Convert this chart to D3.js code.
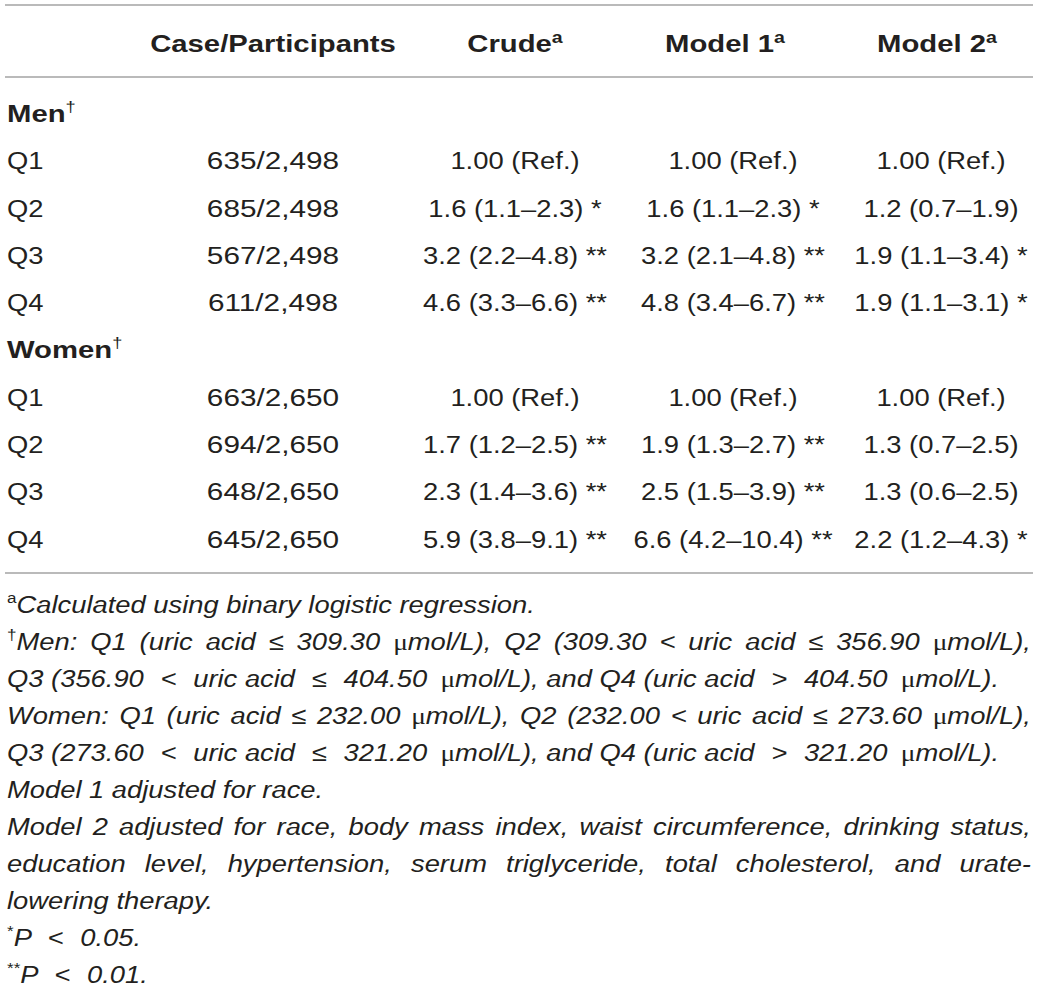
<!DOCTYPE html>
<html><head><meta charset="utf-8">
<script src="https://cdn.jsdelivr.net/npm/d3@7"></script>
<style>body{margin:0;background:#fff}</style></head>
<body>
<script>
// ---- data ----
const columns = ["Case/Participants", "Crude", "Model 1", "Model 2"];
const columnSup = ["", "a", "a", "a"];
const groups = ["Men", "Women"];
const quartiles = ["Q1", "Q2", "Q3", "Q4"];
const casesMen = [635, 685, 567, 611];
const casesWomen = [663, 694, 648, 645];
const participants = [2498, 2650];
const crudeMen = ["1.00 (Ref.)", "1.6 (1.1–2.3) *", "3.2 (2.2–4.8) **", "4.6 (3.3–6.6) **"];
const crudeWomen = ["1.00 (Ref.)", "1.7 (1.2–2.5) **", "2.3 (1.4–3.6) **", "5.9 (3.8–9.1) **"];
const model1Men = ["1.00 (Ref.)", "1.6 (1.1–2.3) *", "3.2 (2.1–4.8) **", "4.8 (3.4–6.7) **"];
const model1Women = ["1.00 (Ref.)", "1.9 (1.3–2.7) **", "2.5 (1.5–3.9) **", "6.6 (4.2–10.4) **"];
const model2Men = ["1.00 (Ref.)", "1.2 (0.7–1.9)", "1.9 (1.1–3.4) *", "1.9 (1.1–3.1) *"];
const model2Women = ["1.00 (Ref.)", "1.3 (0.7–2.5)", "1.3 (0.6–2.5)", "2.2 (1.2–4.3) *"];
const footSup = ["a", "†", "", "", "", "", "", "", "", "*", "**"];
const footText = [
  "Calculated using binary logistic regression.",
  "Men: Q1 (uric acid ≤ 309.30 μmol/L), Q2 (309.30 < uric acid ≤ 356.90 μmol/L),",
  "Q3 (356.90 < uric acid ≤ 404.50 μmol/L), and Q4 (uric acid > 404.50 μmol/L).",
  "Women: Q1 (uric acid ≤ 232.00 μmol/L), Q2 (232.00 < uric acid ≤ 273.60 μmol/L),",
  "Q3 (273.60 < uric acid ≤ 321.20 μmol/L), and Q4 (uric acid > 321.20 μmol/L).",
  "Model 1 adjusted for race.",
  "Model 2 adjusted for race, body mass index, waist circumference, drinking status,",
  "education level, hypertension, serum triglyceride, total cholesterol, and urate-",
  "lowering therapy.",
  "P < 0.05.",
  "P < 0.01."
];
const footJustify = [false, true, false, true, false, false, true, true, false, false, false];

// ---- layout ----
const W = 1040, H = 992;
const FONT = "'Liberation Sans', Arial, Helvetica, sans-serif";
const FS = 24, SX = 1.14, SXB = 1.22, SXC = 1.24, INK = "#231f20";
const left = 7, right = 1031;

const svg = d3.select("body").append("svg").attr("width", W).attr("height", H)
  .style("font-family", FONT).style("fill", INK);

const colX = d3.scaleOrdinal().domain(columns).range([273, 515, 733, 941]);
const headX = d3.scaleOrdinal().domain(columns).range([273, 515, 725, 937]);
const rowY = d3.scaleLinear().domain([0, 9]).range([122, 547.5]);
const footY = d3.scaleLinear().domain([0, 10]).range([613, 983]);

// rules
[5, 77, 573].forEach(y => svg.append("line").attr("x1", 5).attr("x2", 1033)
  .attr("y1", y).attr("y2", y).attr("stroke", "#a3a3a3").attr("stroke-width", 1.6));

function place(sel, x, y, s) { return sel.attr("transform", `translate(${x},${y}) scale(${s || SX},1)`); }

// header
columns.forEach((c, i) => {
  const t = place(svg.append("text"), headX(c), 52, SXB).attr("text-anchor", "middle")
    .style("font-size", FS + "px").style("font-weight", "bold");
  t.append("tspan").text(c);
  if (columnSup[i]) t.append("tspan").attr("dy", -9).style("font-size", "16px").text(columnSup[i]);
});

// body rows
const rows = [];
groups.forEach((g, gi) => {
  rows.push({ label: g, group: true });
  const cases = gi === 0 ? casesMen : casesWomen;
  const cr = gi === 0 ? crudeMen : crudeWomen;
  const m1 = gi === 0 ? model1Men : model1Women;
  const m2 = gi === 0 ? model2Men : model2Women;
  quartiles.forEach((q, qi) => rows.push({
    label: q,
    cells: [cases[qi] + "/" + d3.format(",")(participants[gi]), cr[qi], m1[qi], m2[qi]]
  }));
});

rows.forEach((r, i) => {
  const y = rowY(i);
  if (r.group) {
    const lab = place(svg.append("text"), left, y, SXB).style("font-size", FS + "px");
    lab.append("tspan").style("font-weight", "bold").text(r.label);
    lab.append("tspan").attr("dy", -10).style("font-size", "15px").text("†");
  } else {
    place(svg.append("text"), left, y).style("font-size", FS + "px").text(r.label);
    r.cells.forEach((v, ci) => {
      place(svg.append("text"), colX(columns[ci]), y, ci === 0 ? SXC : SX).attr("text-anchor", "middle")
        .style("font-size", FS + "px").text(v);
    });
  }
});

// footnotes
const MATH = /^[<>≤]$/;
function rich(t, str, firstDy, pad) {
  let first = true;
  let pendingDx = 0;
  str.split(/([<>≤μ])/).forEach(part => {
    if (!part) return;
    const ts = t.append("tspan").text(part);
    if (first && firstDy) ts.attr("dy", firstDy);
    first = false;
    let dx = pendingDx; pendingDx = 0;
    if (part === "μ") {
      ts.style("font-style", "normal").style("font-family", "'Liberation Serif', serif");
      if (pad) dx += 5;
    } else if (MATH.test(part) && pad) {
      dx += 8; pendingDx = 8;
    }
    if (dx) ts.attr("dx", dx);
  });
}
function supSpan(t, s) {
  t.append("tspan").attr("dy", -10).style("font-style", "normal").style("font-size", "15px").text(s);
}

footText.forEach((line, i) => {
  const y = footY(i);
  if (!footJustify[i]) {
    const t = place(svg.append("text"), left, y).style("font-size", FS + "px").style("font-style", "italic");
    if (footSup[i]) supSpan(t, footSup[i]);
    rich(t, line, footSup[i] ? 10 : 0, true);
  } else {
    const words = line.split(" ");
    const nodes = words.map((w, wi) => {
      const t = svg.append("text").style("font-size", FS + "px").style("font-style", "italic");
      const hasSup = wi === 0 && footSup[i];
      if (hasSup) supSpan(t, footSup[i]);
      rich(t, w, hasSup ? 10 : 0, false);
      return t;
    });
    const widths = nodes.map(n => n.node().getComputedTextLength() * SX);
    const total = d3.sum(widths);
    const gap = (right - left - total) / (words.length - 1);
    let x = left;
    nodes.forEach((n, k) => { place(n, x, y); x += widths[k] + gap; });
  }
});
</script>
</body></html>
